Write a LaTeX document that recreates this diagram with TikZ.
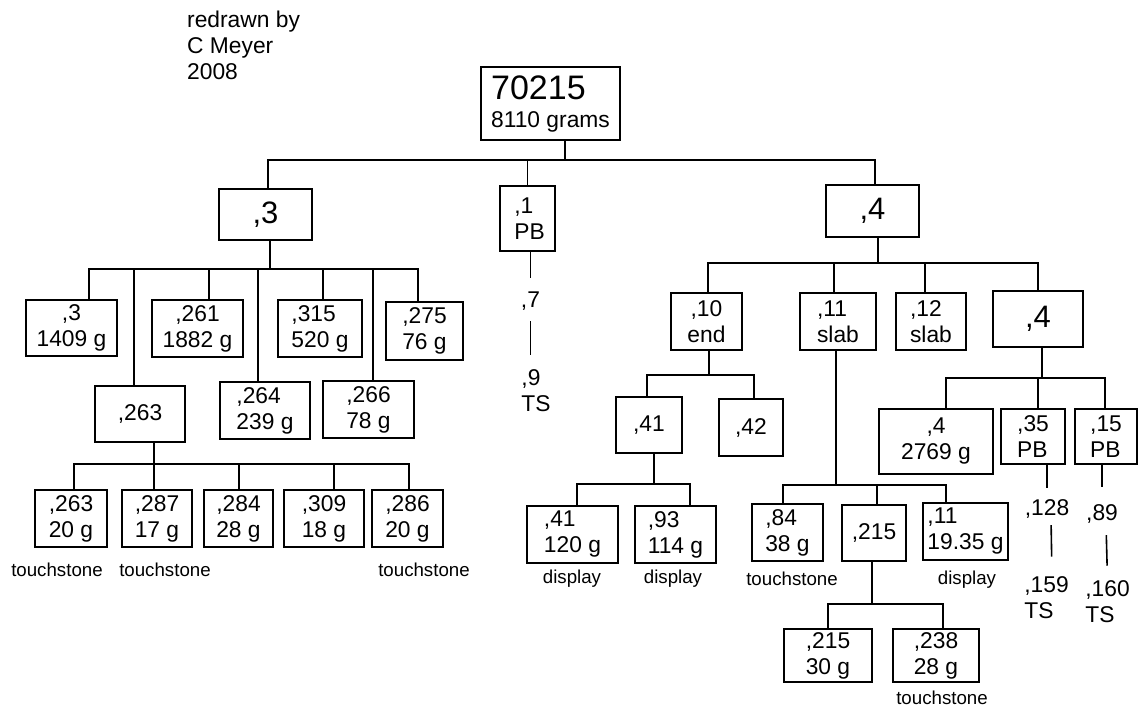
\documentclass[tikz,border=0pt]{standalone}
\usepackage{fontspec}
\setmainfont{Liberation Sans}
\usepackage{tikz}
\usetikzlibrary{shapes,arrows}
\tikzstyle{box} = [rectangle, draw, line width=1.6pt, inner sep=0pt,
    align=left, font=\fontsize{22.8}{26}\selectfont]
\tikzstyle{bigbox} = [box, font=\fontsize{31}{34}\selectfont]
\tikzstyle{line} = [draw, line width=1.6pt]
\tikzstyle{note} = [inner sep=0pt, align=left, font=\fontsize{22.8}{26}\selectfont]
\tikzstyle{usage} = [inner sep=0pt, font=\fontsize{18.7}{21}\selectfont]

\begin{document}
\begin{tikzpicture}[x=1pt, y=-1pt]
			\useasboundingbox (0,0) rectangle (1138,708);
			% Place nodes
			\node [note, anchor=west] (credit) at (187,45) {redrawn by\\C Meyer\\2008};
			\node [box, minimum width=139, minimum height=73] (root) at (550.5,103.5) {{\fontsize{34}{36}\selectfont 70215}\\[2pt]8110 grams};
			\node [bigbox, minimum width=93, minimum height=51] (n3) at (265.5,214.5) {,3};
			\node [box, minimum width=55, minimum height=65] (n1) at (527.5,218.5) {\hspace*{4pt},1\\\hspace*{4pt}PB};
			\node [bigbox, minimum width=93, minimum height=52] (n4) at (872.5,211) {,4};
			% ,3 branch
			\node [box, align=center, minimum width=91, minimum height=56] (n3a) at (71.5,328) {,3\\1409 g};
			\node [box, align=center, minimum width=91, minimum height=57] (n261) at (197.5,328.5) {,261\\1882 g};
			\node [box, minimum width=84, minimum height=57] (n315) at (320,328.5) {,315\\520 g};
			\node [box, minimum width=77, minimum height=58] (n275) at (424.5,331) {,275\\76 g};
			\node [box, minimum width=90, minimum height=56] (n263) at (140,414) {,263};
			\node [box, minimum width=90, minimum height=57] (n264) at (265,410.5) {,264\\239 g};
			\node [box, minimum width=91, minimum height=57] (n266) at (368.5,409.5) {,266\\78 g};
			\node [box, minimum width=72, minimum height=57] (l263) at (71,518.5) {,263\\20 g};
			\node [box, minimum width=70, minimum height=57] (l287) at (157,518.5) {,287\\17 g};
			\node [box, minimum width=69, minimum height=57] (l284) at (238.5,518.5) {,284\\28 g};
			\node [box, minimum width=80, minimum height=57] (l309) at (324,518.5) {,309\\18 g};
			\node [box, minimum width=71, minimum height=57] (l286) at (407.5,518.5) {,286\\20 g};
			\node [usage] (u263) at (57,570) {touchstone};
			\node [usage] (u287) at (165,570) {touchstone};
			\node [usage] (u286) at (424,570) {touchstone};
			% ,1 branch
			\node [note] (n7) at (530.5,301.5) {,7};
			\node [note] (n9) at (536,391) {,9\\TS};
			% ,4 branch
			\node [box, align=center, minimum width=71, minimum height=57] (n10) at (706.5,321.5) {,10\\end};
			\node [box, minimum width=76, minimum height=57] (n11) at (838,321.5) {,11\\slab};
			\node [box, minimum width=70, minimum height=57] (n12) at (931,321.5) {,12\\slab};
			\node [bigbox, minimum width=90, minimum height=56] (n4b) at (1038,319) {,4};
			\node [box, minimum width=66, minimum height=56] (n41) at (649,425) {,41};
			\node [box, minimum width=64, minimum height=57] (n42) at (751,427.5) {,42};
			\node [box, minimum width=91, minimum height=57] (n41b) at (572.5,534.5) {,41\\120 g};
			\node [box, minimum width=81, minimum height=57] (n93) at (675.5,534.5) {,93\\114 g};
			\node [box, minimum width=71, minimum height=57] (n84) at (787.5,532.5) {,84\\38 g};
			\node [box, minimum width=64, minimum height=56] (n215) at (874,533) {,215};
			\node [box, minimum width=85, minimum height=57] (n11b) at (965.5,531.5) {,11\\19.35 g};
			\node [box, minimum width=88, minimum height=53] (n215b) at (828,655.5) {,215\\30 g};
			\node [box, minimum width=86, minimum height=53] (n238) at (936,655.5) {,238\\28 g};
			\node [usage] (u41) at (572,579) {display};
			\node [usage] (u93) at (673,579) {display};
			\node [usage] (u84) at (792,579) {touchstone};
			\node [usage] (u11) at (967,580) {display};
			\node [usage] (u238) at (942,698) {touchstone};
			\node [box, align=center, minimum width=114, minimum height=65] (n4c) at (936,441.5) {,4\\2769 g};
			\node [box, minimum width=64, minimum height=55] (n35) at (1033,436.5) {,35\\PB};
			\node [box, minimum width=62, minimum height=55] (n15) at (1106,436.5) {,15\\PB};
			\node [note] (n128) at (1047,508.5) {,128};
			\node [note] (n159) at (1046.5,598) {,159\\TS};
			\node [note] (n89) at (1102,513.5) {,89};
			\node [note] (n160) at (1107.5,602) {,160\\TS};
			%
			\foreach \c/\s in {n3/2.5, n1/0, n4/2.5}
				\path [line] ([xshift=14.5pt]root.south) -- ++(0,19) -| ([xshift=\s pt]\c.north);
			\foreach \c/\s in {n3a/17.5, n263/-6, n261/11.5, n264/-7, n315/3, n266/4.5, n275/-6.5}
				\path [line] ([xshift=4.5pt]n3.south) -- ++(0,28) -| ([xshift=\s pt]\c.north);
			\foreach \c/\s in {l263/3, l287/-3, l284/0.5, l309/10, l286/1.5}
				\path [line] ([xshift=14pt]n263.south) -- ++(0,21) -| ([xshift=\s pt]\c.north);
			\foreach \c/\s in {n10/1.5, n11/-4, n12/-6, n4b/0}
				\path [line] ([xshift=5.5pt]n4.south) -- ++(0,25) -| ([xshift=\s pt]\c.north);
			\foreach \c/\s in {n41/-2, n42/3}
				\path [line] ([xshift=2.5pt]n10.south) -- ++(0,24) -| ([xshift=\s pt]\c.north);
			\foreach \c/\s in {n41b/4.5, n93/14.5}
				\path [line] ([xshift=5pt]n41.south) -- ++(0,30) -| ([xshift=\s pt]\c.north);
			\foreach \c/\s in {n84/-4.5, n215/3, n11b/-19.5}
				\path [line] ([xshift=-2pt]n11.south) -- ++(0,134) -| ([xshift=\s pt]\c.north);
			\foreach \c/\s in {n215b/0, n238/7}
				\path [line] ([xshift=-2pt]n215.south) -- ++(0,42) -| ([xshift=\s pt]\c.north);
			\foreach \c/\s in {n4c/10, n35/5, n15/-1}
				\path [line] ([xshift=4pt]n4b.south) -- ++(0,30) -| ([xshift=\s pt]\c.north);
			% sample chains
			\path [line, shorten >=14pt] (n7.north |- n1.south) -- (n7.north);
			\path [line, shorten <=10pt, shorten >=15pt] (n7.south) -- (n7.south |- n9.north);
			\path [line, shorten >=11pt] (n128.north |- n35.south) -- (n128.north);
			\path [line, shorten <=7pt, shorten >=20pt] ([xshift=4pt]n128.south) -- ([xshift=5.5pt]n159.north);
			\path [line, shorten >=17pt] (n89.north |- n15.south) -- (n89.north);
			\path [line, shorten <=12pt, shorten >=15pt] ([xshift=4pt]n89.south) -- (n160.north);
	\end{tikzpicture}
\end{document}
